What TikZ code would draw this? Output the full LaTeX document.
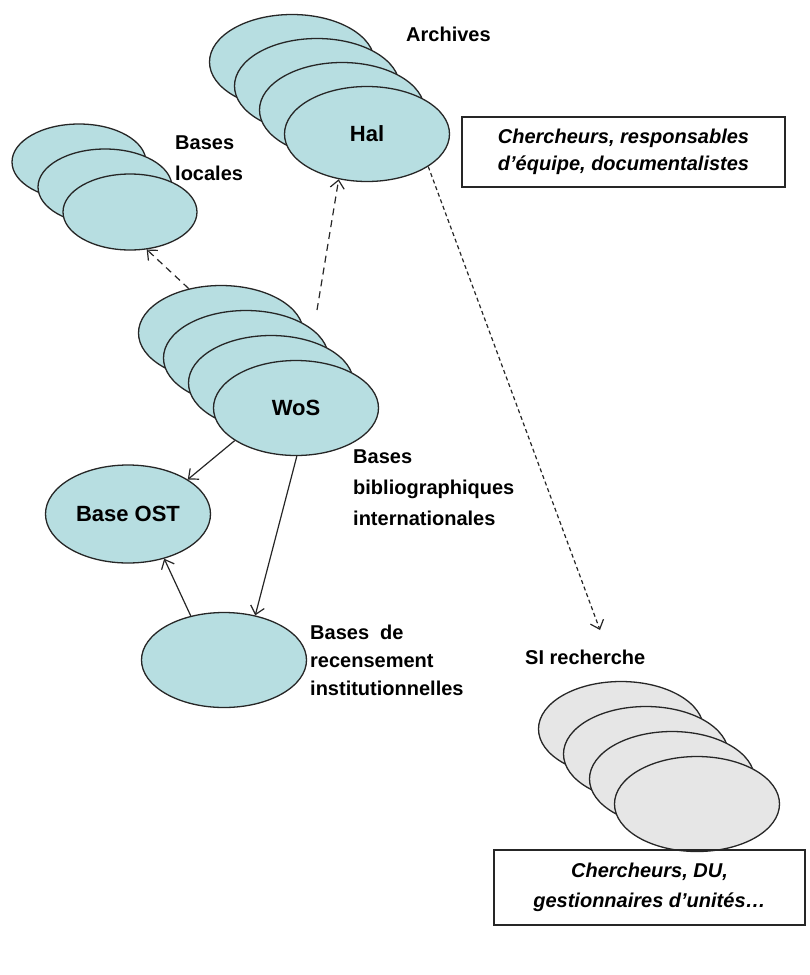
\documentclass[tikz,border=0pt]{standalone}
\usepackage{fontspec}
\setmainfont{Liberation Sans}
\usetikzlibrary{shapes.geometric,arrows.meta}
\definecolor{cyanfill}{RGB}{183,222,225}
\definecolor{grayfill}{RGB}{230,230,230}
\begin{document}
\begin{tikzpicture}[x=1pt,y=-1pt,
  ell/.style={ellipse,draw=black!85,line width=1.3pt,inner sep=0pt,fill=cyanfill,font=\fontsize{22}{26}\selectfont\bfseries},
  bigell/.style={ell,minimum width=165pt,minimum height=95pt},
  smallell/.style={ell,minimum width=134pt,minimum height=76pt},
  grayell/.style={bigell,fill=grayfill},
  lbl/.style={font=\fontsize{20}{31}\selectfont\bfseries,align=left,inner sep=0pt,anchor=west},
  boxtxt/.style={draw=black!85,line width=1.3pt,font=\fontsize{20}{27}\selectfont\bfseries\itshape,align=center,inner sep=0pt},
  conn/.style={line width=1.2pt,draw=black!85,-{Straight Barb[length=8pt,width=14pt]}},
  dashA/.style={conn,dash pattern=on 7pt off 5pt},
  dashB/.style={conn,dash pattern=on 4pt off 3pt},
]
\useasboundingbox (0,0) rectangle (809,975);

% Archives stack
\node[bigell] (hal1) at (292,62) {};
\node[bigell] (hal2) at (317,86) {};
\node[bigell] (hal3) at (342,110) {};
\node[bigell] (hal) at (367,134) {Hal};
\node[lbl] (archlbl) at (406,34) {Archives};

% Bases locales stack
\node[smallell] (loc1) at (79,162) {};
\node[smallell] (loc2) at (105,187) {};
\node[smallell] (loc3) at (130,212) {};
\node[lbl] (loclbl) at (175,158) {Bases\\locales};

% WoS stack
\node[bigell] (wos1) at (221,333) {};
\node[bigell] (wos2) at (246,358) {};
\node[bigell] (wos3) at (271,383) {};
\node[bigell] (wos) at (296,408) {WoS};
\node[lbl] (biblbl) at (353,488) {Bases\\bibliographiques\\internationales};

% Base OST and recensement
\node[bigell,minimum height=98pt] (ost) at (128,514) {Base OST};
\node[bigell] (rec) at (224,660) {};
\node[lbl,font=\fontsize{20}{28}\selectfont\bfseries] (reclbl) at (310,660) {Bases\ \ de\\recensement\\institutionnelles};

% SI recherche stack
\node[grayell] (si1) at (621,729) {};
\node[grayell] (si2) at (646,754) {};
\node[grayell] (si3) at (672,779) {};
\node[grayell] (si) at (697,804) {};
\node[lbl] (silbl) at (525,657) {SI recherche};

% boxes
\node[boxtxt,minimum width=323pt,minimum height=70pt] (boxA) at (623.5,152) {Chercheurs, responsables\\d’équipe, documentalistes};
\node[boxtxt,minimum width=311pt,minimum height=75pt,font=\fontsize{20}{30}\selectfont\bfseries\itshape] (boxB) at (649.5,887.5) {Chercheurs, DU,\\gestionnaires d’unités…};

% connectors
\coordinate (wosstart) at (317,310);
\coordinate (sitip) at (600,630);
\draw[dashA] (wos1.126) -- (loc3.-66);
\draw[dashA] (wosstart) -- (hal.238);
\draw[dashB] (hal.-28) -- (sitip);
\draw[conn] (wos.208) -- (ost.30);
\draw[conn] (wos.-89) -- (rec.55);
\draw[conn] (rec.127) -- (ost.-51);
\end{tikzpicture}
\end{document}
